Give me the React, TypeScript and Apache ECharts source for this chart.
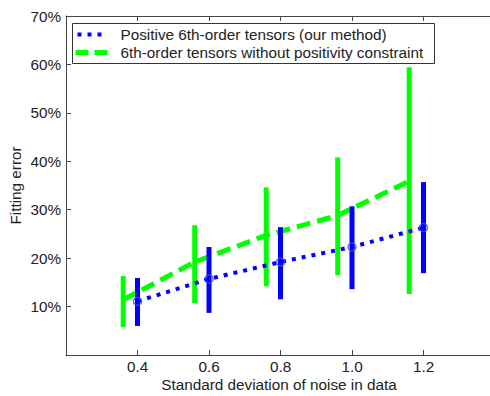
import React, { useEffect, useRef } from "react";
import * as echarts from "echarts";

const blueX = [0.4, 0.6, 0.8, 1.0, 1.2];
const blueMean = [0.111, 0.157, 0.192, 0.223, 0.263];
const blueLow = [0.06, 0.087, 0.115, 0.136, 0.169];
const blueHigh = [0.159, 0.223, 0.264, 0.307, 0.357];

const greenX = [0.36, 0.56, 0.76, 0.96, 1.16];
const greenMean = [0.114, 0.192, 0.247, 0.288, 0.359];
const greenLow = [0.058, 0.107, 0.142, 0.165, 0.126];
const greenHigh = [0.163, 0.268, 0.346, 0.408, 0.594];

const blueName = "Positive 6th-order tensors (our method)";
const greenName = "6th-order tensors without positivity constraint";
const xTitle = "Standard deviation of noise in data";
const yTitle = "Fitting error";

const FONT = "Liberation Sans";
const FS = 15.3;

function errorSeries(xs: number[], lows: number[], highs: number[], color: string, width: number) {
  return {
    type: "custom",
    silent: true,
    z: 3,
    data: xs.map((x, i) => [x, lows[i], highs[i]]),
    renderItem: (params: any, api: any) => {
      const p1 = api.coord([api.value(0), api.value(1)]);
      const p2 = api.coord([api.value(0), api.value(2)]);
      return {
        type: "line",
        shape: { x1: p1[0], y1: p1[1], x2: p2[0], y2: p2[1] },
        style: { stroke: color, lineWidth: width },
      };
    },
  };
}

export default function App() {
  const ref = useRef<HTMLDivElement>(null);
  useEffect(() => {
    if (!ref.current) return;
    const chart = echarts.init(ref.current, null, { renderer: "svg" });
    const axisLine = { show: true, lineStyle: { color: "#444", width: 1 } };
    const tick = { show: true, inside: true, length: 5, lineStyle: { color: "#444" } };
    chart.setOption({
      animation: false,
      backgroundColor: "#fff",
      textStyle: { fontFamily: FONT },
      grid: { left: 66, top: 16, bottom: 41, right: -5, containLabel: false, outerBoundsMode: "none" },
      graphic: [
        {
          type: "text",
          x: 279,
          y: 384,
          style: {
            text: xTitle,
            fontFamily: FONT,
            fontSize: FS,
            fill: "#222",
            textAlign: "center",
            verticalAlign: "middle",
          },
        },
        {
          type: "group",
          left: 72,
          top: 23,
          z: 100,
          children: [
            {
              type: "rect",
              shape: { x: 0, y: 0, width: 362, height: 40 },
              style: { fill: "#fff", stroke: "#333", lineWidth: 1 },
            },
            {
              type: "line",
              shape: { x1: 5, y1: 11, x2: 34, y2: 11 },
              style: { stroke: "#0000ff", lineWidth: 4, lineDash: [4, 6] },
            },
            {
              type: "line",
              shape: { x1: 3, y1: 29, x2: 36, y2: 29 },
              style: { stroke: "#00ff00", lineWidth: 5, lineDash: [13, 6] },
            },
            {
              type: "text",
              x: 48,
              y: 11,
              style: { text: blueName, fontFamily: FONT, fontSize: FS, fill: "#222", verticalAlign: "middle" },
            },
            {
              type: "text",
              x: 48,
              y: 29,
              style: { text: greenName, fontFamily: FONT, fontSize: FS, fill: "#222", verticalAlign: "middle" },
            },
          ],
        },
      ],
      xAxis: [
        {
          type: "value",
          min: 0.2,
          max: 1.4,
          interval: 0.2,
          position: "bottom",
          axisLine,
          axisTick: tick,
          splitLine: { show: false },
          axisLabel: {
            showMinLabel: false,
            showMaxLabel: false,
            color: "#222",
            fontFamily: FONT,
            fontSize: FS,
            margin: 4,
            formatter: (v: number) => v.toFixed(1),
          },
        },
        {
          type: "value",
          min: 0.2,
          max: 1.4,
          interval: 0.2,
          position: "top",
          axisLine,
          axisTick: tick,
          splitLine: { show: false },
          axisLabel: { show: false },
        },
      ],
      yAxis: {
        type: "value",
        min: 0,
        max: 0.7,
        interval: 0.1,
        axisLine,
        axisTick: tick,
        splitLine: { show: false },
        axisLabel: {
          showMinLabel: false,
          color: "#222",
          fontFamily: FONT,
          fontSize: FS,
          margin: 5,
          formatter: (v: number) => Math.round(v * 100) + "%",
        },
        name: yTitle,
        nameLocation: "middle",
        nameGap: 43,
        nameMoveOverlap: false,
        nameTextStyle: { color: "#222", fontFamily: FONT, fontSize: FS },
      },
      series: [
        {
          name: blueName,
          type: "line",
          xAxisIndex: 0,
          data: blueX.map((x, i) => [x, blueMean[i]]),
          symbol: "none",
          color: "#0000ff",
          lineStyle: { color: "#0000ff", width: 4, type: [4, 6] },
          z: 4,
        },
        {
          name: greenName,
          type: "line",
          xAxisIndex: 0,
          data: greenX.map((x, i) => [x, greenMean[i]]),
          symbol: "none",
          color: "#00ff00",
          lineStyle: { color: "#00ff00", width: 5, type: [14, 7] },
          z: 2,
        },
        errorSeries(greenX, greenLow, greenHigh, "#00ff00", 5),
        errorSeries(blueX, blueLow, blueHigh, "#0000ff", 5),
        {
          type: "scatter",
          xAxisIndex: 0,
          data: blueX.map((x, i) => [x, blueMean[i]]),
          symbol: "circle",
          symbolSize: 8,
          itemStyle: { color: "transparent", borderColor: "#4040ff", borderWidth: 1.5 },
          z: 5,
          silent: true,
        },
      ],
    });
    return () => chart.dispose();
  }, []);
  return (
    <div
      ref={ref}
      style={{ position: "absolute", left: 0, top: 0, width: 490, height: 396, overflow: "hidden" }}
    />
  );
}
